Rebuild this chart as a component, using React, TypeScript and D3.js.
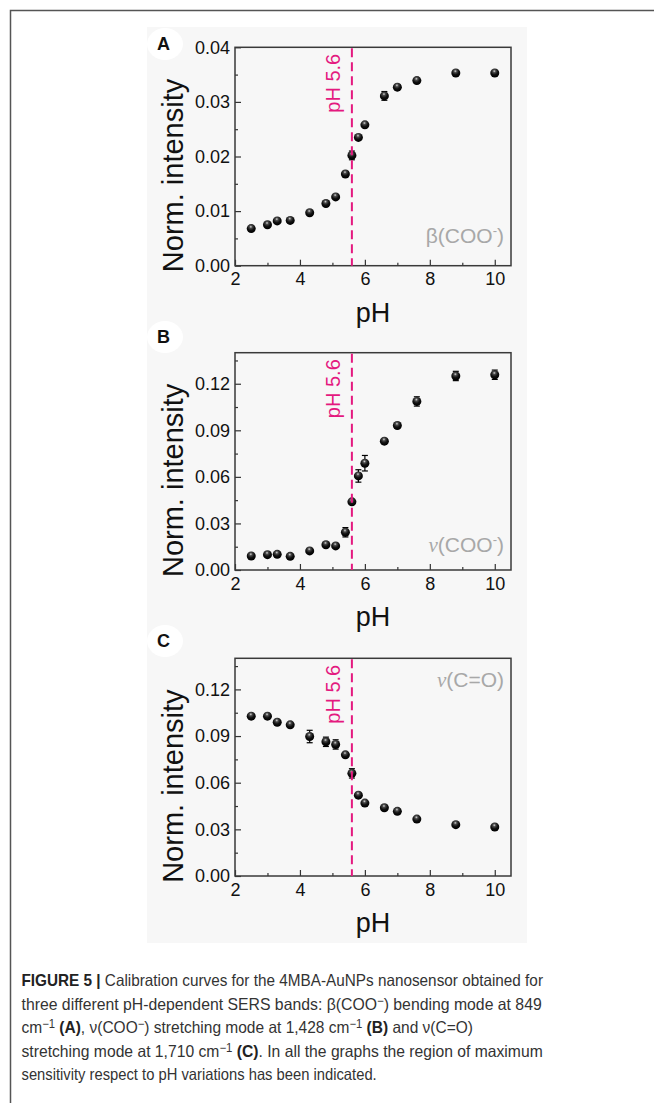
import React from "react";
import * as d3 from "d3";

// pH values shared by the three calibration curves
const phValues = [2.5, 3.0, 3.3, 3.7, 4.3, 4.8, 5.1, 5.4, 5.6, 5.8, 6.0, 6.6, 7.0, 7.6, 8.8, 10.0];

// A: beta(COO-)
const intensityA = [0.0068, 0.0075, 0.0082, 0.0083, 0.0097, 0.0114, 0.0126, 0.0168, 0.0202, 0.0235, 0.0258, 0.0311, 0.0327, 0.0339, 0.0353, 0.0353];
const errorA = [0.0002, 0.0002, 0.0002, 0.0002, 0.0002, 0.0002, 0.0002, 0.0003, 0.0008, 0.0003, 0.0003, 0.0008, 0.0004, 0.0003, 0.0003, 0.0003];
// B: nu(COO-)
const intensityB = [0.009, 0.0099, 0.0101, 0.0088, 0.0123, 0.0163, 0.0155, 0.0243, 0.0439, 0.0606, 0.0688, 0.083, 0.0931, 0.1086, 0.125, 0.1258];
const errorB = [0.001, 0.001, 0.001, 0.001, 0.001, 0.001, 0.001, 0.003, 0.001, 0.004, 0.005, 0.001, 0.001, 0.003, 0.003, 0.003];
// C: nu(C=O)
const intensityC = [0.1028, 0.1028, 0.0989, 0.0972, 0.0897, 0.0863, 0.0846, 0.0779, 0.066, 0.052, 0.0469, 0.0439, 0.0416, 0.0366, 0.033, 0.0315];
const errorC = [0.001, 0.001, 0.001, 0.001, 0.004, 0.003, 0.003, 0.001, 0.003, 0.001, 0.001, 0.001, 0.001, 0.001, 0.001, 0.001];

const xTicks = [2, 4, 6, 8, 10];
const xMinorTicks = [3, 5, 7, 9];
const yTicksA = [0, 0.01, 0.02, 0.03, 0.04];
const yTicksBC = [0, 0.03, 0.06, 0.09, 0.12];
const transitionPH = 5.6;

const SANS = "'Liberation Sans', Arial, Helvetica, sans-serif";
const PINK = "#e4197f";

const panels = [
  { letter: "A", top: 47.3, bottom: 265.7, yMax: 0.04, ticks: yTicksA, values: intensityA, errors: errorA, band: "β", mode: "COO", minus: true, bandAtTop: false },
  { letter: "B", top: 352.7, bottom: 570, yMax: 0.14, ticks: yTicksBC, values: intensityB, errors: errorB, band: "ν", mode: "COO", minus: true, bandAtTop: false },
  { letter: "C", top: 658.3, bottom: 876, yMax: 0.14, ticks: yTicksBC, values: intensityC, errors: errorC, band: "ν", mode: "C=O", minus: false, bandAtTop: true },
];

const Chart = () => {
  const svgRef = React.useRef(null);

  React.useEffect(() => {
    const svg = d3.select(svgRef.current);
    svg.selectAll("*").remove();

    const grad = svg.append("defs").append("radialGradient")
      .attr("id", "ball").attr("cx", "45%").attr("cy", "30%").attr("r", "65%");
    grad.append("stop").attr("offset", "0%").attr("stop-color", "#d8d8d8");
    grad.append("stop").attr("offset", "25%").attr("stop-color", "#4a4a4a");
    grad.append("stop").attr("offset", "60%").attr("stop-color", "#111");
    grad.append("stop").attr("offset", "100%").attr("stop-color", "#000");

    // page frame
    svg.append("path").attr("d", "M10.5,1103 V10.5 H654")
      .attr("fill", "none").attr("stroke", "#555").attr("stroke-width", 1.5);

    // figure background
    svg.append("rect").attr("x", 147).attr("y", 27).attr("width", 380).attr("height", 916).attr("fill", "#f7f7f7");

    const x = d3.scaleLinear().domain([2, 10.5]).range([235, 511]);

    panels.forEach((p) => {
      const g = svg.append("g");
      const y = d3.scaleLinear().domain([0, p.yMax]).range([p.bottom, p.top]);
      const step = p.ticks[1] - p.ticks[0];
      const yMinor = d3.range(step / 2, p.yMax, step);

      // panel letter on white blob
      const lb = p.letter === "A" ? 50 : p.letter === "B" ? 343 : 647;
      g.append("ellipse").attr("cx", 165).attr("cy", lb - 6).attr("rx", 18).attr("ry", 16).attr("fill", "#fff");
      g.append("text").attr("x", 157).attr("y", lb).text(p.letter)
        .style("font-family", SANS).style("font-size", "18px").style("font-weight", "bold").attr("fill", "#111");

      // y axis
      const yAxis = g.append("g").attr("transform", `translate(${x(2)},0)`)
        .call(d3.axisLeft(y).tickValues(p.ticks).tickSize(-6).tickPadding(5).tickFormat(d3.format(".2f")));
      g.append("g").attr("transform", `translate(${x(2)},0)`)
        .call(d3.axisLeft(y).tickValues(yMinor).tickSize(-3).tickFormat(() => ""));

      // x axis
      const xAxis = g.append("g").attr("transform", `translate(0,${p.bottom})`)
        .call(d3.axisBottom(x).tickValues(xTicks).tickSize(-6).tickPadding(7).tickFormat(d3.format("d")));
      g.append("g").attr("transform", `translate(0,${p.bottom})`)
        .call(d3.axisBottom(x).tickValues(xMinorTicks).tickSize(-3).tickFormat(() => ""));

      g.selectAll(".domain").remove();
      g.selectAll(".tick line").attr("stroke", "#333").attr("stroke-width", 1.2);
      [yAxis, xAxis].forEach((a) => a.selectAll("text")
        .style("font-family", SANS).style("font-size", "18px").attr("fill", "#111"));

      // frame
      g.append("rect").attr("x", x(2)).attr("y", p.top)
        .attr("width", x(10.5) - x(2)).attr("height", p.bottom - p.top)
        .attr("fill", "none").attr("stroke", "#3a3a3a").attr("stroke-width", 1.5);

      // axis titles
      g.append("text").attr("transform", `translate(183,${(p.top + p.bottom) / 2 + 19}) rotate(-90)`)
        .attr("text-anchor", "middle").text("Norm. intensity")
        .style("font-family", SANS).style("font-size", "29px").attr("fill", "#111");
      g.append("text").attr("x", (x(2) + x(10.5)) / 2).attr("y", p.bottom + 56)
        .attr("text-anchor", "middle").text("pH")
        .style("font-family", SANS).style("font-size", "27px").attr("fill", "#111");

      // band annotation
      const band = g.append("text").attr("x", 504)
        .attr("y", p.bandAtTop ? p.top + 29 : p.bottom - (p.letter === "A" ? 22.7 : 18))
        .attr("text-anchor", "end").style("font-family", SANS).style("font-size", "21px").attr("fill", "#a8a8a8");
      if (p.band === "ν") {
        band.append("tspan").text("ν").style("font-family", "'Liberation Serif', 'Times New Roman', serif").style("font-style", "italic");
      } else {
        band.append("tspan").text(p.band);
      }
      band.append("tspan").text(`(${p.mode}`);
      if (p.minus) {
        band.append("tspan").attr("dy", -8).style("font-size", "13px").text("-");
        band.append("tspan").attr("dy", 8).text(")");
      } else {
        band.append("tspan").text(")");
      }

      // error bars
      const pts = phValues.map((ph, i) => ({ ph, v: p.values[i], e: p.errors[i] }));
      const eb = g.append("g").attr("stroke", "#000").attr("stroke-width", 1.2);
      pts.forEach((d) => {
        const cx = x(d.ph), y1 = y(d.v + d.e), y2 = y(d.v - d.e);
        eb.append("line").attr("x1", cx).attr("x2", cx).attr("y1", y1).attr("y2", y2);
        eb.append("line").attr("x1", cx - 3).attr("x2", cx + 3).attr("y1", y1).attr("y2", y1);
        eb.append("line").attr("x1", cx - 3).attr("x2", cx + 3).attr("y1", y2).attr("y2", y2);
      });

      // markers
      g.selectAll(".dot").data(pts).enter().append("circle")
        .attr("class", "dot")
        .attr("cx", (d) => x(d.ph)).attr("cy", (d) => y(d.v)).attr("r", 4.5)
        .attr("fill", "url(#ball)");

      // transition line
      g.append("line").attr("x1", x(transitionPH)).attr("x2", x(transitionPH))
        .attr("y1", p.top + 1).attr("y2", p.bottom)
        .attr("stroke", PINK).attr("stroke-width", 2).style("stroke-dasharray", "9 5");
      g.append("text").attr("transform", `translate(339.5,${p.top + 6.5}) rotate(-90)`)
        .attr("text-anchor", "end").text(`pH ${transitionPH}`)
        .style("font-family", SANS).style("font-size", "20px").attr("fill", PINK);
    });

    // caption
    const lines = [
      { end: 543, parts: [["b", "FIGURE 5 |"], ["t", " Calibration curves for the 4MBA-AuNPs nanosensor obtained for"]] },
      { end: 541.7, parts: [["t", "three different pH-dependent SERS bands: β(COO"], ["s", "−"], ["t", ") bending mode at 849"]] },
      { end: 473, parts: [["t", "cm"], ["s", "−1"], ["t", " "], ["b", "(A)"], ["t", ", ν(COO"], ["s", "−"], ["t", ") stretching mode at 1,428 cm"], ["s", "−1"], ["t", " "], ["b", "(B)"], ["t", " and ν(C=O)"]] },
      { end: 542.7, parts: [["t", "stretching mode at 1,710 cm"], ["s", "−1"], ["t", " "], ["b", "(C)"], ["t", ". In all the graphs the region of maximum"]] },
      { end: 376.7, parts: [["t", "sensitivity respect to pH variations has been indicated."]] },
    ];
    lines.forEach((ln, i) => {
      const t = svg.append("text").attr("x", 21.5).attr("y", 986 + i * 23.5)
        .attr("textLength", ln.end - 21.5).attr("lengthAdjust", "spacingAndGlyphs")
        .style("font-family", SANS).style("font-size", "16.5px").attr("fill", "#333");
      let raised = false;
      ln.parts.forEach(([kind, str]) => {
        const ts = t.append("tspan").text(str);
        if (kind === "s") {
          ts.attr("dy", -5).style("font-size", "12px");
          raised = true;
        } else {
          if (raised) { ts.attr("dy", 5); raised = false; }
          if (kind === "b") ts.style("font-weight", "bold").attr("fill", "#222");
        }
      });
    });
  }, []);

  return <svg ref={svgRef} width={654} height={1103} style={{ position: "absolute", left: 0, top: 0, background: "#fff" }} />;
};

export default function App() {
  return <Chart />;
}
